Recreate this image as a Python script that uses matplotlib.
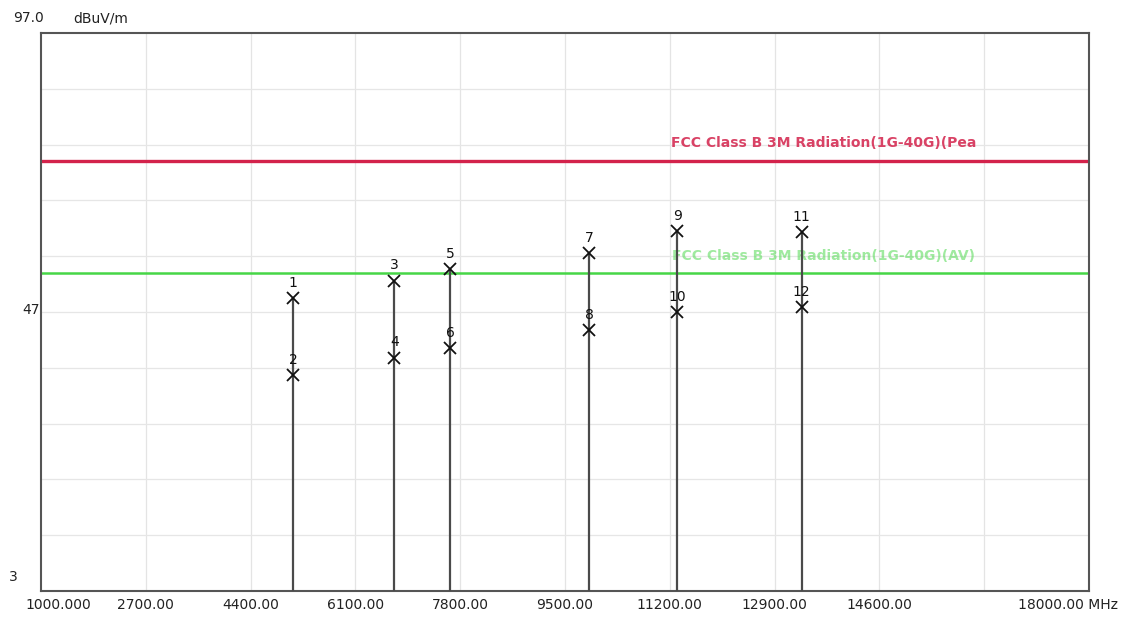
import matplotlib
matplotlib.use("Agg")
import matplotlib.pyplot as plt
import matplotlib.transforms as mtransforms

# --- data ---
x_ticks = [1000, 2700, 4400, 6100, 7800, 9500, 11200, 12900, 14600, 16300, 18000]
x_tick_labels = ["1000.000", "2700.00", "4400.00", "6100.00", "7800.00", "9500.00",
                 "11200.00", "12900.00", "14600.00", "", "18000.00 MHz"]
y_ticks = [-3, 47, 97]
y_tick_labels = ["3", "47", "97.0"]
y_grid = [7, 17, 27, 37, 47, 57, 67, 77, 87]

marker_ids = ["1", "2", "3", "4", "5", "6", "7", "8", "9", "10", "11", "12"]
marker_freq = [5090, 5090, 6730, 6730, 7640, 7640, 9890, 9890, 11320, 11320, 13340, 13340]
marker_level = [49.5, 35.7, 52.6, 38.8, 54.7, 40.5, 57.6, 43.8, 61.5, 47.0, 61.3, 47.9]

peak_limit = 74.0
avg_limit = 54.0
peak_limit_label = "FCC Class B 3M Radiation(1G-40G)(Pea"
avg_limit_label = "FCC Class B 3M Radiation(1G-40G)(AV)"

x_min, x_max = 1000, 18000
y_min, y_max = -3, 97

# --- figure ---
fig = plt.figure(figsize=(11.3, 6.19), dpi=100)
ax = fig.add_axes([41 / 1130, 28 / 619, 1048 / 1130, 558 / 619])
ax.set_xlim(x_min, x_max)
ax.set_ylim(y_min, y_max)

# faint grid
for xv in x_ticks[1:-1]:
    ax.axvline(xv, color="#e4e4e4", lw=0.9, zorder=0)
for yv in y_grid:
    ax.axhline(yv, color="#e6e6e6", lw=0.9, zorder=0)

# limit lines
ax.axhline(peak_limit, color="#d3224b", lw=2.4, zorder=2)
ax.axhline(avg_limit, color="#46d646", lw=1.8, zorder=2)
ax.text(13690, peak_limit + 3.2, peak_limit_label, color="#d3224b", fontsize=10,
        fontweight="bold", ha="center", va="center", alpha=0.85)
ax.text(13700, avg_limit + 3.0, avg_limit_label, color="#5fdc5f", fontsize=10,
        fontweight="bold", ha="center", va="center", alpha=0.6)

# marker stems (from bottom up to the peak marker of each frequency)
peak_freq = marker_freq[0::2]
peak_level = marker_level[0::2]
ax.vlines(peak_freq, y_min, peak_level, color="#4a4a4a", lw=1.6, zorder=3)

# markers and their numbers
ax.plot(marker_freq, marker_level, linestyle="none", marker="x", color="#111111",
        markersize=8, markeredgewidth=1.3, zorder=4)
for mid, f, lv in zip(marker_ids, marker_freq, marker_level):
    ax.annotate(mid, (f, lv), xytext=(0, 6), textcoords="offset points",
                ha="center", va="bottom", fontsize=10, color="#111111", zorder=5)

# frame
for sp in ax.spines.values():
    sp.set_color("#555555")
    sp.set_linewidth(1.5)

# ticks
ax.tick_params(length=0, colors="#222222", labelsize=10)
ax.set_xticks(x_ticks)
ax.set_xticklabels(x_tick_labels)
ax.tick_params(axis="x", pad=5)
ax.set_yticks(y_ticks)
ax.set_yticklabels(y_tick_labels)
ax.tick_params(axis="y", pad=0)

def shift(label, dx, dy):
    label.set_transform(label.get_transform() +
                        mtransforms.ScaledTranslation(dx / 100, dy / 100, fig.dpi_scale_trans))

xl = ax.get_xticklabels()
shift(xl[0], 17, 0)
shift(xl[-1], -21, 0)

y_offsets = [(-28, 14), (-10, 2), (-13, 15)]
for lab, (dx, dy) in zip(ax.get_yticklabels(), y_offsets):
    lab.set_ha("center")
    lab.set_va("center")
    shift(lab, dx, dy)

fig.text(101 / 1130, 1 - 19 / 619, "dBuV/m", fontsize=10, color="#222222",
         ha="center", va="center")

fig.savefig("out.png", dpi=100)
